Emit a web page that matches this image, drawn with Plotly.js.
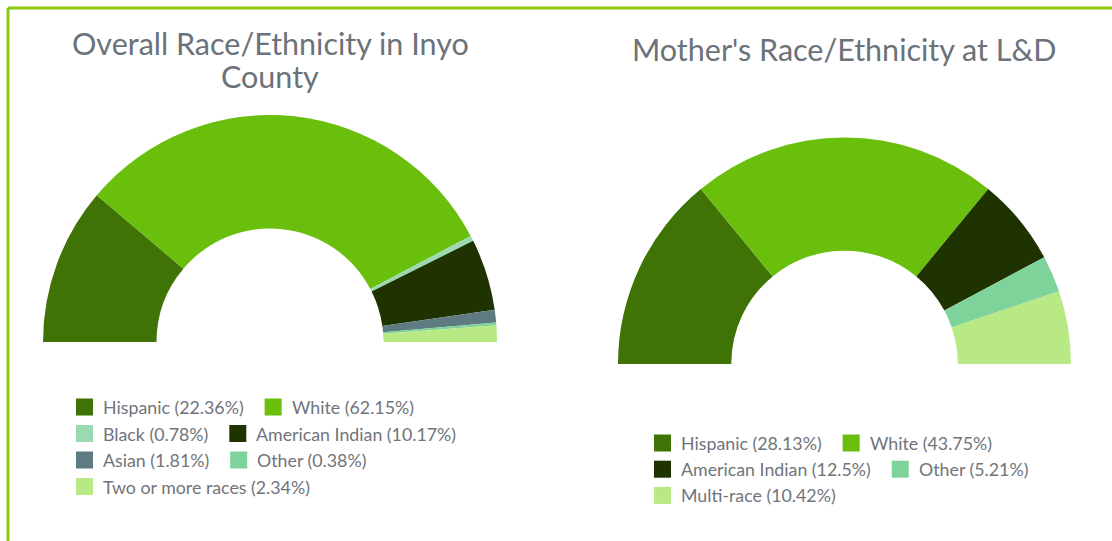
<!DOCTYPE html>
<html><head><meta charset="utf-8">
<script src="https://cdn.plot.ly/plotly-3.0.1.min.js"></script>
<style>html,body{margin:0;padding:0;overflow:hidden;background:#fff}#chart{width:1112px;height:600px}</style>
</head><body><div id="chart"></div><script>
// ---- data ----
const countyTitleLines = ["Overall Race/Ethnicity in Inyo", "County"];
const countyLabels = ["Hispanic", "White", "Black", "American Indian", "Asian", "Other", "Two or more races"];
const countyValues = [22.36, 62.15, 0.78, 10.17, 1.81, 0.38, 2.34];
const countyColors = ["#3f7306", "#69bf0c", "#9ad9b2", "#1f3300", "#5f7b82", "#7dd39a", "#b9e985"];

const motherTitleLines = ["Mother's Race/Ethnicity at L&D"];
const motherLabels = ["Hispanic", "White", "American Indian", "Other", "Multi-race"];
const motherValues = [28.13, 43.75, 12.5, 5.21, 10.42];
const motherColors = ["#3f7306", "#69bf0c", "#1f3300", "#7dd39a", "#b9e985"];

// ---- layout helpers ----
const W = 1112, H = 600;
const px = x => x / W;
const py = y => 1 - y / H;
const FONT = "Lato, 'Open Sans', sans-serif";
const titleColor = "#6b7279";
const legendColor = "#6f747a";
const legendSize = 17.8;
const titleSize = 30.5;

const cv = document.createElement("canvas").getContext("2d");
cv.font = legendSize + "px Lato";
const tw = s => cv.measureText(s).width;

function halfDonut(labels, values, colors, cx, cy, r) {
  const total = values.reduce((a, b) => a + b, 0);
  return {
    type: "pie",
    labels: labels.concat([" "]),
    values: values.concat([total]),
    marker: { colors: colors.concat(["rgba(0,0,0,0)"]), line: { width: 0 } },
    hole: 0.5,
    sort: false,
    direction: "clockwise",
    rotation: 270,
    textinfo: "none",
    hoverinfo: "label+percent",
    showlegend: false,
    domain: { x: [px(cx - r), px(cx + r)], y: [py(cy + r), py(cy - r)] }
  };
}

function legend(labels, values, colors, rows, x0, y0, dy, shapes, annots) {
  const sq = 17, gap = 10, dist = 21;
  rows.forEach((row, ri) => {
    let x = x0;
    const yc = y0 + ri * dy;
    row.forEach(i => {
      const txt = labels[i] + " (" + values[i] + "%)";
      shapes.push({ type: "rect", xref: "paper", yref: "paper",
        x0: px(x), x1: px(x + sq), y0: py(yc + sq / 2), y1: py(yc - sq / 2),
        fillcolor: colors[i], line: { width: 0 } });
      annots.push({ xref: "paper", yref: "paper", x: px(x + sq + gap - 2), y: py(yc),
        xanchor: "left", yanchor: "middle", showarrow: false, text: txt,
        font: { family: FONT, size: legendSize, color: legendColor } });
      x += sq + gap + tw(txt) + dist;
    });
  });
}

function title(lines, cx, y0, dy, annots) {
  lines.forEach((t, i) => annots.push({ xref: "paper", yref: "paper", x: px(cx), y: py(y0 + i * dy),
    xanchor: "center", yanchor: "middle", showarrow: false, text: t,
    font: { family: FONT, size: titleSize, color: titleColor } }));
}

const shapes = [
  { type: "line", xref: "paper", yref: "paper", x0: px(8), x1: 1, y0: py(8), y1: py(8), line: { color: "#8cc70f", width: 3 } },
  { type: "line", xref: "paper", yref: "paper", x0: px(8), x1: px(8), y0: py(8), y1: 0, line: { color: "#8cc70f", width: 3 } }
];
const annots = [];
title(countyTitleLines, 270, 43, 33.5, annots);
title(motherTitleLines, 844, 49, 33.5, annots);

legend(countyLabels, countyValues, countyColors, [[0, 1], [2, 3], [4, 5], [6]], 76, 407, 26.5, shapes, annots);
legend(motherLabels, motherValues, motherColors, [[0, 1], [2, 3], [4]], 654, 443, 26.2, shapes, annots);

const data = [
  halfDonut(countyLabels, countyValues, countyColors, 270, 342, 227),
  halfDonut(motherLabels, motherValues, motherColors, 844.5, 364, 226.5)
];

Plotly.newPlot("chart", data, {
  width: W, height: H,
  margin: { l: 0, r: 0, t: 0, b: 0 },
  paper_bgcolor: "#ffffff",
  showlegend: false,
  shapes: shapes,
  annotations: annots
}, { displayModeBar: false });
</script></body></html>
